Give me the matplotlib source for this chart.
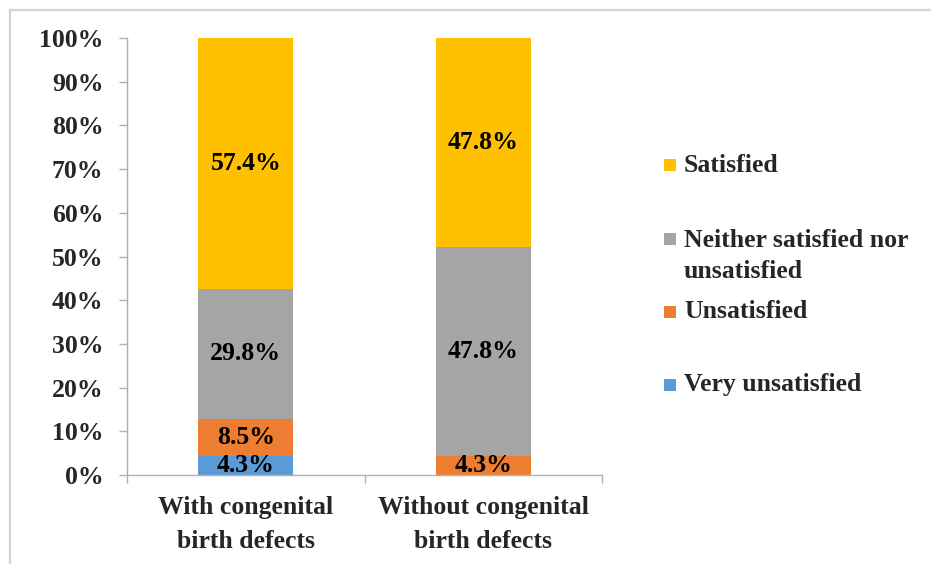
import matplotlib
matplotlib.use("Agg")
import matplotlib.pyplot as plt
from matplotlib.lines import Line2D
from matplotlib.patches import Rectangle
import numpy as np

categories = ["With congenital\nbirth defects", "Without congenital\nbirth defects"]
series_names = ["Very unsatisfied", "Unsatisfied", "Neither satisfied nor\nunsatisfied", "Satisfied"]
very_unsatisfied = [4.3, 0.0]
unsatisfied = [8.5, 4.3]
neither = [29.8, 47.8]
satisfied = [57.4, 47.8]
colors = ["#5B9BD5", "#ED7D31", "#A5A5A5", "#FFC000"]
yticks = [0, 10, 20, 30, 40, 50, 60, 70, 80, 90, 100]

W, H = 931, 564
fig = plt.figure(figsize=(W / 100, H / 100), dpi=100)
FONT = "Liberation Serif"
FS = 18.5
TXT = "#262626"

ax = fig.add_axes([127 / W, 89 / H, (602 - 127) / W, 437 / H])
x = np.arange(len(categories))
bottom = np.zeros(len(categories))
series = [very_unsatisfied, unsatisfied, neither, satisfied]
for vals, col in zip(series, colors):
    vals = np.array(vals)
    ax.bar(x, vals, width=0.4, bottom=bottom, color=col, edgecolor="none")
    for xi, v, b in zip(x, vals, bottom):
        if v > 0:
            ax.text(xi, b + v / 2, f"{v:.1f}%", ha="center", va="center",
                    fontsize=FS, fontweight="bold", family=FONT, color="black")
    bottom = bottom + vals

ax.set_xlim(-0.5, 1.5)
ax.set_ylim(0, 100)
ax.set_yticks(yticks)
ax.set_yticklabels([f"{t}%" for t in yticks], family=FONT, fontweight="bold",
                   fontsize=FS, color=TXT)
ax.set_xticks(x)
ax.set_xticklabels(categories, family=FONT, fontweight="bold", fontsize=FS,
                   color=TXT, linespacing=1.6)
ax.set_xticks([-0.5, 0.5, 1.5], minor=True)
ax.tick_params(axis="x", which="major", length=0, pad=15)
ax.tick_params(axis="x", which="minor", length=6, color="#b0b0b0", width=1)
ax.tick_params(axis="y", length=6, color="#b0b0b0", width=1, pad=11)
for s in ["top", "right"]:
    ax.spines[s].set_visible(False)
for s in ["left", "bottom"]:
    ax.spines[s].set_color("#b0b0b0")
    ax.spines[s].set_linewidth(1)

# manual legend (Excel-style irregular spacing); y = first-line centre in pixels
leg_items = [("Satisfied", colors[3], 165),
             ("Neither satisfied nor\nunsatisfied", colors[2], 239),
             ("Unsatisfied", colors[1], 312),
             ("Very unsatisfied", colors[0], 385)]
for label, col, yc in leg_items:
    sq = 12
    fig.add_artist(Rectangle((664 / W, (H - yc - sq / 2) / H), sq / W, sq / H,
                             transform=fig.transFigure, color=col, lw=0))
    if "\n" in label:
        fig.text(684 / W, (H - yc + 10) / H, label, ha="left", va="top",
                 family=FONT, fontweight="bold", fontsize=FS, color=TXT,
                 linespacing=1.45)
    else:
        fig.text(684 / W, (H - yc) / H, label, ha="left", va="center",
                 family=FONT, fontweight="bold", fontsize=FS, color=TXT)

# outer light border
bc = "#d4d4d4"
fig.add_artist(Line2D([9.5 / W, 9.5 / W], [0, (H - 10) / H], transform=fig.transFigure,
                      color=bc, lw=1.6))
fig.add_artist(Line2D([9.5 / W, 1], [(H - 10) / H, (H - 10) / H], transform=fig.transFigure,
                      color=bc, lw=1.6))

fig.savefig("out.png", dpi=100)
